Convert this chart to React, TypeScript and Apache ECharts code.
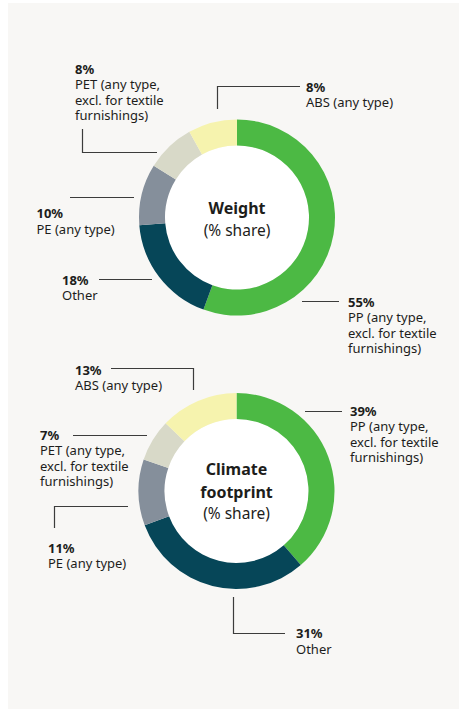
import React, { useEffect, useRef } from "react";
import * as echarts from "echarts";

const categories = ["PP", "Other", "PE", "PET", "ABS"];
const categoryLabels = [
  "PP (any type,\nexcl. for textile\nfurnishings)",
  "Other",
  "PE (any type)",
  "PET (any type,\nexcl. for textile\nfurnishings)",
  "ABS (any type)",
];
const weightShares = [55, 18, 10, 8, 8];
const climateShares = [39, 31, 11, 7, 13];
const sliceColors = ["#4cb944", "#064658", "#858f9b", "#d8d9c8", "#f6f3ae"];

const FONT = "'Noto Sans', 'Open Sans', sans-serif";
const TEXT = "#1d1d1b";

type LabelPos = { x: number; y: number; line: number[][] };

const weightLayout: LabelPos[] = [
  { x: 348, y: 294, line: [[302, 301.5], [320, 301.5], [339, 301.5]] },
  { x: 62, y: 272, line: [[152, 279.5], [120, 279.5], [99, 279.5]] },
  { x: 36.5, y: 205.5, line: [[134, 197.5], [100, 197.5], [70, 197.5]] },
  { x: 75, y: 61, line: [[157, 152.5], [82.5, 152.5], [82.5, 129]] },
  { x: 306, y: 79, line: [[217.5, 109], [217.5, 86.5], [300, 86.5]] },
];
const climateLayout: LabelPos[] = [
  { x: 350, y: 403, line: [[305, 411.5], [320, 411.5], [342, 411.5]] },
  { x: 296, y: 625.5, line: [[233.5, 597], [233.5, 633.5], [285, 633.5]] },
  { x: 48, y: 540, line: [[128, 506.5], [54.5, 506.5], [54.5, 528]] },
  { x: 40, y: 427, line: [[147, 435.5], [110, 435.5], [73, 435.5]] },
  { x: 75, y: 362, line: [[193.5, 390], [193.5, 368.5], [111, 368.5]] },
];

function makeDonut(
  values: number[],
  center: [number, number],
  layout: LabelPos[]
): any[] {
  return [
    {
      type: "pie",
      silent: true,
      center,
      radius: [0, 72],
      z: 1,
      label: { show: false },
      labelLine: { show: false },
      itemStyle: { color: "#ffffff" },
      data: [{ value: 1, name: "bg" }],
    },
    {
      type: "pie",
      center,
      radius: [72, 98],
      startAngle: 90,
      clockwise: true,
      avoidLabelOverlap: false,
      z: 2,
      silent: true,
      data: categories.map((c, i) => ({
        name: c,
        value: values[i],
        itemStyle: { color: sliceColors[i] },
        label: {
          formatter: `{p|${values[i]}%}\n{n|${categoryLabels[i]}}`,
        },
      })),
      label: {
        show: true,
        position: "outside",
        fontFamily: FONT,
        color: TEXT,
        rich: {
          p: {
            fontFamily: FONT,
            fontSize: 13,
            fontWeight: "bold",
            lineHeight: 15.5,
            color: TEXT,
          },
          n: {
            fontFamily: FONT,
            fontSize: 13,
            lineHeight: 15.5,
            color: TEXT,
          },
        },
      },
      labelLine: {
        show: true,
        smooth: false,
        lineStyle: { color: "#3c3c3b", width: 1.2 },
      },
      labelLayout: (params: any) => {
        const p = layout[params.dataIndex];
        return {
          x: p.x,
          y: p.y,
          align: "left",
          verticalAlign: "top",
          labelLinePoints: p.line,
        };
      },
    },
  ];
}

export default function App() {
  const ref = useRef<HTMLDivElement>(null);
  useEffect(() => {
    if (!ref.current) return;
    const chart = echarts.init(ref.current, null, { renderer: "svg" });
    const centerText = (text: string, x: number, y: number, bold: boolean) => ({
      type: "text",
      x,
      y,
      z: 10,
      style: {
        text,
        fontFamily: FONT,
        fontSize: bold ? 16 : 15.5,
        fontWeight: bold ? "bold" : "normal",
        fill: TEXT,
        align: "center",
        verticalAlign: "middle",
      },
    });
    chart.setOption({
      animation: false,
      backgroundColor: "transparent",
      graphic: [
        {
          type: "rect",
          z: -10,
          shape: { x: 8, y: 3, width: 451, height: 706 },
          style: { fill: "#f8f7f5" },
        },
        centerText("Weight", 237, 208, true),
        centerText("(% share)", 237, 229.5, false),
        centerText("Climate", 236.5, 469, true),
        centerText("footprint", 236.5, 491.5, true),
        centerText("(% share)", 236.5, 513, false),
      ],
      series: [
        ...makeDonut(weightShares, [237, 217.5], weightLayout),
        ...makeDonut(climateShares, [236.5, 491], climateLayout),
      ],
    });
    return () => chart.dispose();
  }, []);
  return (
    <div
      ref={ref}
      style={{ position: "absolute", left: 0, top: 0, width: 459, height: 709 }}
    />
  );
}
